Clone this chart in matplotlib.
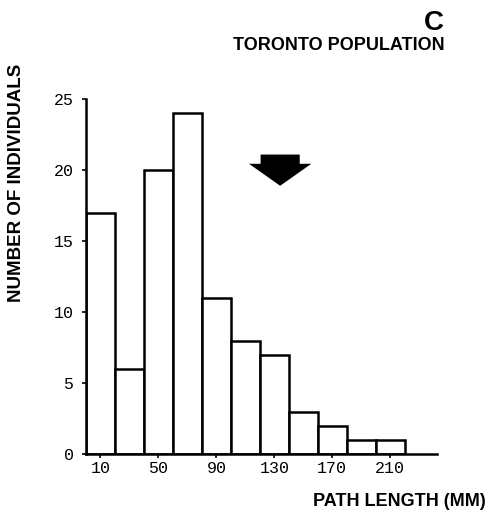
import matplotlib.pyplot as plt
from matplotlib.patches import FancyArrow

# bin centres (mm) and counts
path_length = [10, 30, 50, 70, 90, 110, 130, 150, 170, 190, 210]
individuals = [17, 6, 20, 24, 11, 8, 7, 3, 2, 1, 1]
xticks = [10, 50, 90, 130, 170, 210]
yticks = [0, 5, 10, 15, 20, 25]
mean_marker = 134  # arrow position on x

plt.rcParams['font.family'] = ['Liberation Sans', 'DejaVu Sans']

fig = plt.figure(figsize=(4.87, 5.22), dpi=100)
ax = fig.add_axes([0.1766, 0.130, 0.720, 0.680])

ax.bar(path_length, individuals, width=20, color='white', edgecolor='black', linewidth=1.8)

ax.add_patch(FancyArrow(mean_marker, 21.1, 0, -2.2, width=27, head_width=43,
                        head_length=1.55, length_includes_head=True,
                        color='black', lw=0))

ax.set_xlim(0, 242)
ax.set_ylim(0, 25)
ax.set_xticks(xticks)
ax.set_yticks(yticks)
for side in ['top', 'right']:
    ax.spines[side].set_visible(False)
ax.spines['left'].set_linewidth(1.8)
ax.spines['bottom'].set_linewidth(1.8)
ax.tick_params(axis='y', direction='out', length=3, width=1.2, pad=6)
ax.tick_params(axis='x', direction='out', length=3, width=1.2, pad=2)
for lab in ax.get_xticklabels() + ax.get_yticklabels():
    lab.set_family('Liberation Mono')
    lab.set_fontsize(12)

fig.text(0.033, 0.650, 'NUMBER OF INDIVIDUALS', rotation=90, ha='center', va='center',
         fontsize=13.5, fontweight='bold')
fig.text(0.997, 0.040, 'PATH LENGTH (MM)', ha='right', va='center',
         fontsize=13, fontweight='bold')
fig.text(0.912, 0.955, 'C', ha='right', va='center', fontsize=20, fontweight='bold')
fig.text(0.912, 0.913, 'TORONTO POPULATION', ha='right', va='center',
         fontsize=13, fontweight='bold')

fig.savefig('out.png', dpi=100)
